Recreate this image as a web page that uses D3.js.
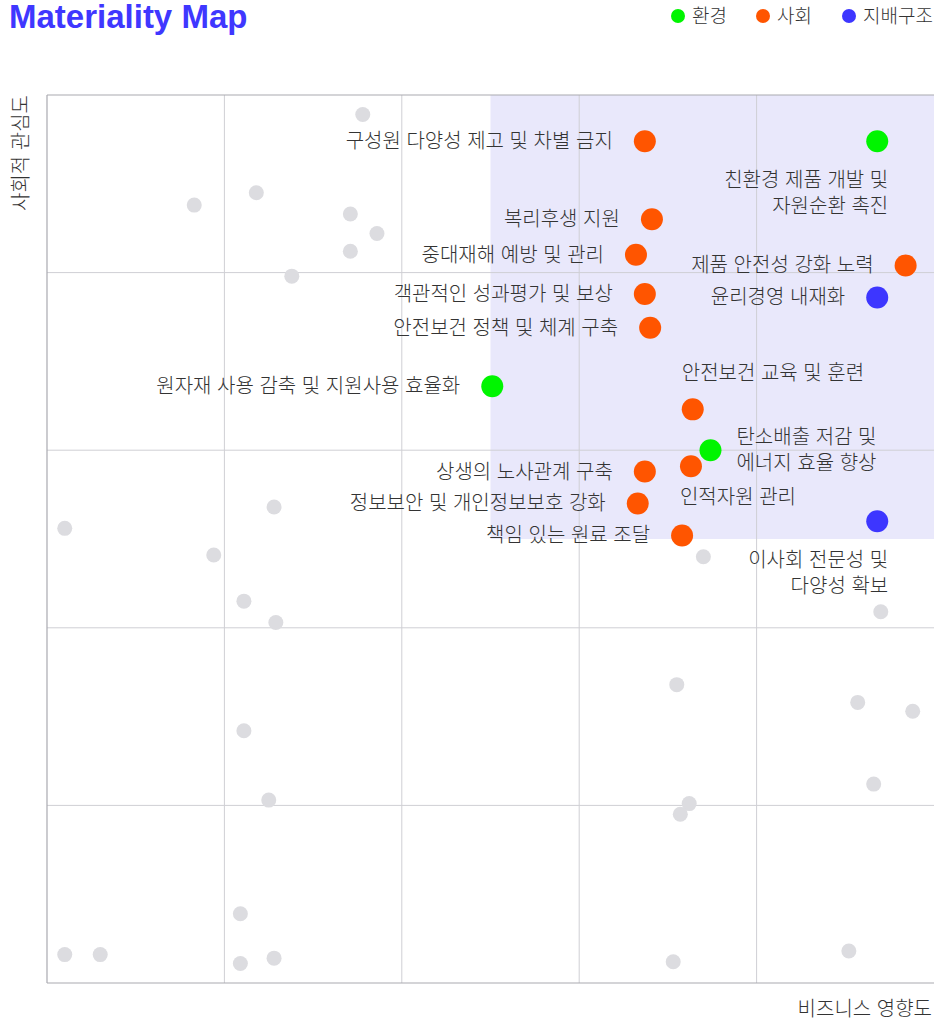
<!DOCTYPE html>
<html lang="ko">
<head>
<meta charset="utf-8">
<script src="https://cdn.jsdelivr.net/npm/d3@7/dist/d3.min.js"></script>
<style>
  html, body { margin: 0; padding: 0; background: #fff; }
  svg { display: block; }
  text { font-family: "Noto Sans CJK KR", "Noto Sans", sans-serif; }
  text.title { font-family: "Liberation Sans", Arial, sans-serif; }
</style>
</head>
<body>
<svg id="chart" width="934" height="1024"></svg>
<script>
// Material issues: name, category, business impact (x), social interest (y)
const issueNames = [
  "구성원 다양성 제고 및 차별 금지",
  "친환경 제품 개발 및\n자원순환 촉진",
  "복리후생 지원",
  "중대재해 예방 및 관리",
  "제품 안전성 강화 노력",
  "객관적인 성과평가 및 보상",
  "윤리경영 내재화",
  "안전보건 정책 및 체계 구축",
  "원자재 사용 감축 및 지원사용 효율화",
  "안전보건 교육 및 훈련",
  "탄소배출 저감 및\n에너지 효율 향상",
  "인적자원 관리",
  "상생의 노사관계 구축",
  "정보보안 및 개인정보보호 강화",
  "책임 있는 원료 조달",
  "이사회 전문성 및\n다양성 확보"
];
const issueCategories = ["사회", "환경", "사회", "사회", "사회", "사회", "지배구조", "사회",
                         "환경", "사회", "환경", "사회", "사회", "사회", "사회", "지배구조"];
const issueImpact   = [3.37, 4.68, 3.41, 3.32, 4.84, 3.37, 4.68, 3.40, 2.51, 3.64, 3.74, 3.63, 3.37, 3.33, 3.58, 4.68];
const issueInterest = [4.74, 4.74, 4.30, 4.10, 4.04, 3.88, 3.86, 3.69, 3.36, 3.23, 3.00, 2.91, 2.88, 2.70, 2.52, 2.60];

// Non-material issues shown as background points
const otherImpact   = [1.78, 1.18, 0.83, 1.71, 1.86, 1.71, 1.38, 0.10, 1.28, 0.94, 1.11, 1.29, 3.70, 4.70, 3.55,
                       4.57, 4.88, 1.11, 1.25, 3.62, 3.57, 4.66, 1.09, 0.10, 0.30, 1.09, 1.28, 3.53, 4.52];
const otherInterest = [4.89, 4.45, 4.38, 4.33, 4.22, 4.12, 3.98, 2.56, 2.68, 2.41, 2.15, 2.03, 2.40, 2.09, 1.68,
                       1.58, 1.53, 1.42, 1.03, 1.01, 0.95, 1.12, 0.39, 0.16, 0.16, 0.11, 0.14, 0.12, 0.18];

const categories = ["환경", "사회", "지배구조"];
const categoryColors = ["#00f500", "#ff5500", "#3d36ff"];
const gridTicks = [0, 1, 2, 3, 4, 5];
const materialThreshold = 2.5;

// Where each issue's label sits relative to its point
const labelSide = ["left", "below", "left", "left", "left", "left", "left", "left",
                   "left", "above", "right", "belowStart", "left", "left", "left", "below"];

const svg = d3.select("#chart");
const plot = { left: 47, right: 934, top: 95, bottom: 983 };

const x = d3.scaleLinear().domain([0, 5]).range([plot.left, plot.right]);
const y = d3.scaleLinear().domain([0, 5]).range([plot.bottom, plot.top]);
const color = d3.scaleOrdinal().domain(categories).range(categoryColors);

// Title
svg.append("text")
  .attr("class", "title")
  .attr("x", 9).attr("y", 28)
  .attr("font-weight", 700)
  .attr("font-size", 33)
  .attr("fill", "#3f37ff")
  .text("Materiality Map");

// Legend
const legendX = [678, 763, 849];
const legend = svg.append("g");
categories.forEach((c, i) => {
  legend.append("circle").attr("cx", legendX[i]).attr("cy", 16).attr("r", 7).attr("fill", color(c));
  legend.append("text").attr("x", legendX[i] + 14).attr("y", 23)
    .attr("font-size", 19).attr("font-weight", 300).attr("fill", "#333").text(c);
});

// Material region
svg.append("rect")
  .attr("x", x(materialThreshold)).attr("y", y(5))
  .attr("width", x(5) - x(materialThreshold))
  .attr("height", y(materialThreshold) - y(5))
  .attr("fill", "#e9e8fb");

// Grid
const grid = svg.append("g");
grid.selectAll("line.v").data(gridTicks.slice(1, -1)).join("line")
  .attr("x1", d => x(d)).attr("x2", d => x(d))
  .attr("y1", y(5)).attr("y2", y(0))
  .attr("stroke", "#cfcfd4").attr("stroke-width", 1);
grid.selectAll("line.h").data(gridTicks.slice(1, -1)).join("line")
  .attr("x1", x(0)).attr("x2", x(5))
  .attr("y1", d => y(d)).attr("y2", d => y(d))
  .attr("stroke", "#cfcfd4").attr("stroke-width", 1);

// Frame: top, left and bottom edges
const frame = svg.append("g").attr("stroke", "#a9a9b0").attr("stroke-width", 1.2);
frame.append("line").attr("x1", x(0)).attr("x2", x(5)).attr("y1", y(5)).attr("y2", y(5));
frame.append("line").attr("x1", x(0)).attr("x2", x(0)).attr("y1", y(5)).attr("y2", y(0));
frame.append("line").attr("x1", x(0)).attr("x2", x(5)).attr("y1", y(0)).attr("y2", y(0));

// Axis titles
svg.append("text")
  .attr("transform", `translate(28, ${plot.top}) rotate(-90)`)
  .attr("text-anchor", "end")
  .attr("font-size", 20).attr("font-weight", 300).attr("fill", "#333")
  .text("사회적 관심도");
svg.append("text")
  .attr("x", 932).attr("y", 1016)
  .attr("text-anchor", "end")
  .attr("font-size", 20).attr("font-weight", 300).attr("fill", "#333")
  .text("비즈니스 영향도");

// Background issues
const others = otherImpact.map((v, i) => ({ x: v, y: otherInterest[i] }));
svg.append("g").selectAll("circle").data(others).join("circle")
  .attr("cx", d => x(d.x)).attr("cy", d => y(d.y))
  .attr("r", 7.5).attr("fill", "#dcdce0");

// Material issues
const issues = issueNames.map((n, i) => ({
  name: n, cat: issueCategories[i], x: issueImpact[i], y: issueInterest[i], side: labelSide[i]
}));

const pts = svg.append("g");
pts.selectAll("circle").data(issues).join("circle")
  .attr("cx", d => x(d.x)).attr("cy", d => y(d.y))
  .attr("r", 11).attr("fill", d => color(d.cat));

// Labels: each line is its own text element
const lineH = 26;
const labels = svg.append("g").attr("font-size", 20).attr("font-weight", 300).attr("fill", "#333");
issues.forEach(d => {
  const cx = x(d.x), cy = y(d.y);
  const lines = d.name.split("\n");
  let tx, ty, anchor;
  if (d.side === "left") { tx = cx - 32; ty = cy - (lines.length - 1) * lineH / 2; anchor = "end"; }
  else if (d.side === "right") { tx = cx + 26; ty = cy - (lines.length - 1) * lineH / 2; anchor = "start"; }
  else if (d.side === "below") { tx = cx + 11; ty = cy + 39; anchor = "end"; }
  else if (d.side === "belowStart") { tx = cx - 11; ty = cy + 31; anchor = "start"; }
  else { tx = cx - 11; ty = cy - 36; anchor = "start"; }
  lines.forEach((ln, k) => {
    labels.append("text")
      .attr("text-anchor", anchor)
      .attr("x", tx).attr("y", ty + k * lineH)
      .attr("dy", "0.35em")
      .text(ln);
  });
});
</script>
</body>
</html>
